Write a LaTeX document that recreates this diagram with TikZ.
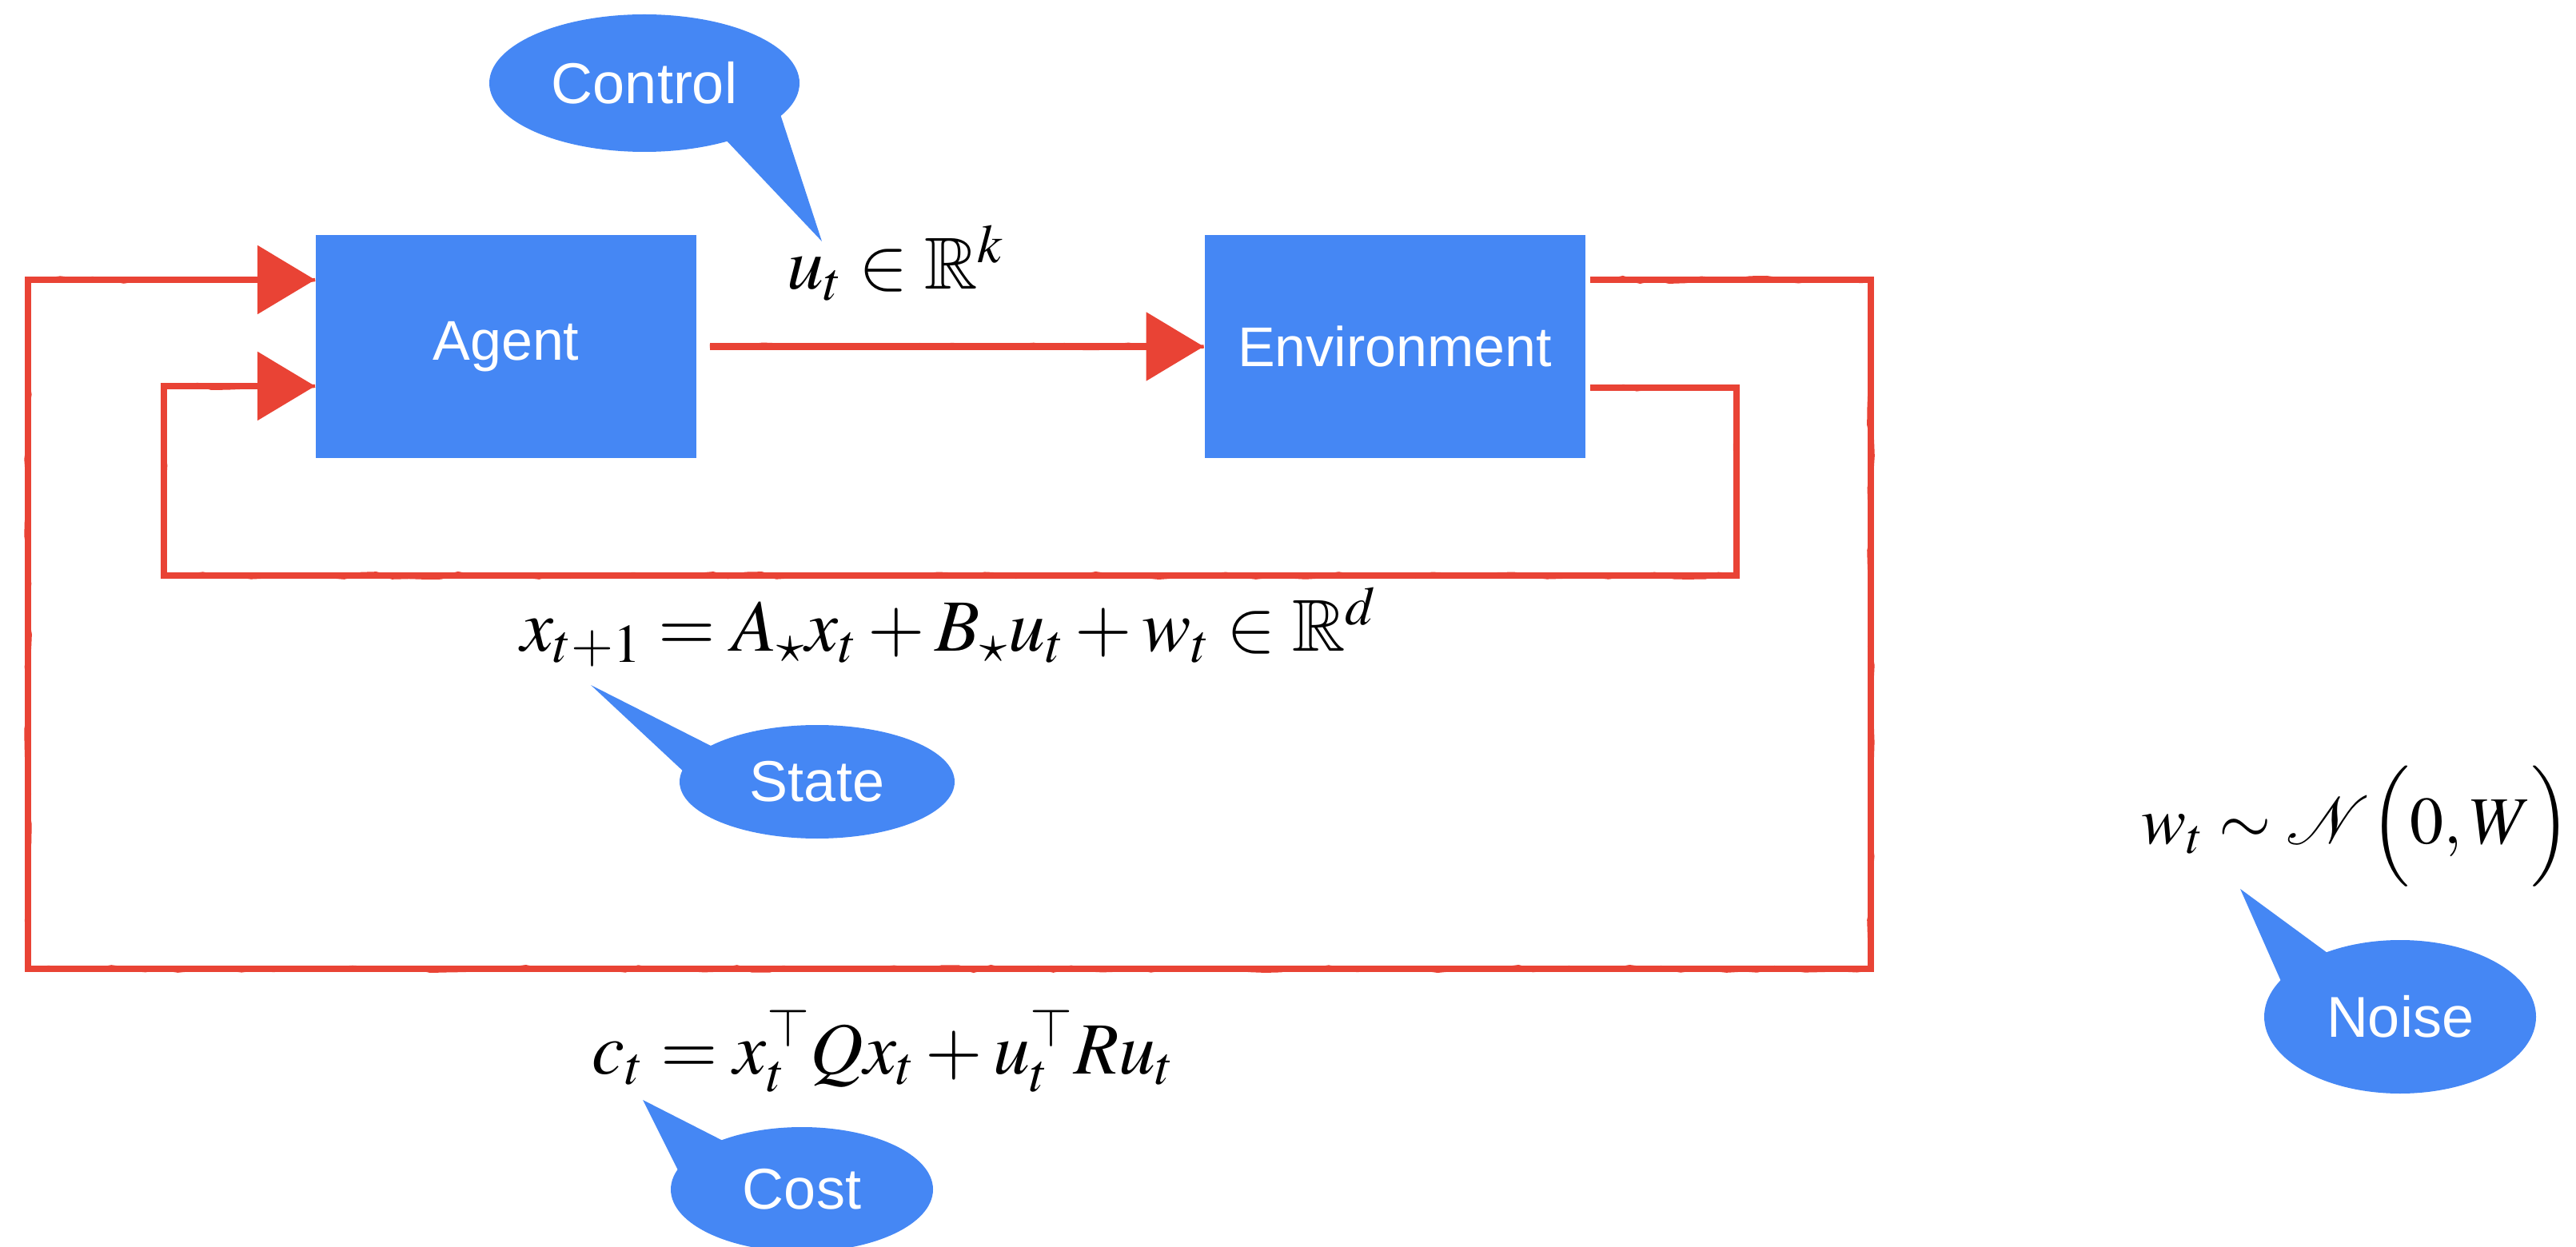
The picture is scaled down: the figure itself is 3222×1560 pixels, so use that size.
\documentclass[tikz,border=0pt]{standalone}
\usepackage{mathptmx}
\usepackage{amssymb}
\usepackage[no-math]{fontspec}
\newfontfamily\lblfont{Liberation Sans}
\usetikzlibrary{arrows.meta,calc,shapes.geometric,decorations.pathmorphing}
\definecolor{gblue}{RGB}{69,135,244}
\definecolor{gred}{RGB}{233,67,53}
\begin{document}
\begin{tikzpicture}[x=0.25pt,y=-0.25pt,
  box/.style={fill=gblue, draw=none, minimum width=119pt, minimum height=69.75pt, inner sep=0pt, text=white, font=\lblfont\fontsize{17.5}{20}\selectfont},
  bubble/.style={ellipse, fill=gblue, draw=none, inner sep=0pt, text=white, font=\lblfont\fontsize{18}{21}\selectfont},
  tail/.style={fill=gblue, draw=none},
  wire/.style={draw=gred, line width=2.2pt,
    postaction={-, draw=gred, line width=1.1pt, decorate, decoration={random steps, segment length=5pt, amplitude=0.7pt}}},
  arr/.style={wire, -{Triangle[length=18pt,width=21pt]}},
  eq/.style={anchor=base, inner sep=0pt, font=\fontsize{23}{27}\selectfont}
]
\useasboundingbox (0,0) rectangle (3222,1560);
\pgfmathsetseed{7}

% blocks
\node[box] (agent) at (633,433.5) {Agent};
\node[box] (env) at (1744.5,433.5) {Environment};

% ports and corners
\coordinate (eo1) at ($(env.east)+(6,-83.5)$);
\coordinate (eo2) at ($(env.east)+(6,51.5)$);
\coordinate (ai1) at ($(agent.west)+(0,-83.5)$);
\coordinate (ai2) at ($(agent.west)+(0,49.5)$);
\coordinate (outerR) at (2340,1212);
\coordinate (outerL) at (35,1212);
\coordinate (innerR) at (2172,720);
\coordinate (innerL) at (205,720);

% connectors
\draw[arr, shorten <=4pt] (agent) -- (env);
\draw[arr] (eo1) -| (outerR) -- (outerL) |- (ai1);
\draw[arr] (eo2) -| (innerR) -- (innerL) |- (ai2);

% equations
\node[eq] (ueq) at (1120,362) {$u_t \in \mathbb{R}^k$};
\node[eq] (xeq) at (1187,815) {$x_{t+1} = A_\star x_t + B_\star u_t + w_t \in \mathbb{R}^d$};
\node[eq] (ceq) at (1105,1343) {$c_t = x_t^\top Q x_t + u_t^\top R u_t$};
\node[eq, font=\fontsize{21}{25}\selectfont] (weq) at (2947,1055) {$w_t \sim \mathcal{N}\Bigl(0,W\Bigr)$};

% callouts
\node[bubble, minimum width=97pt, minimum height=43pt] (ctl) at (806,104) {Control};
\coordinate (ctltip) at (1028,302);
\fill[tail] (905,172) -- (ctltip) -- (975,140) -- cycle;

\node[bubble, minimum width=86pt, minimum height=35.5pt] (st) at (1022,978) {State};
\coordinate (sttip) at (739,857);
\fill[tail] (897,937) -- (sttip) -- (858,968) -- cycle;

\node[bubble, minimum width=82pt, minimum height=39pt] (cst) at (1003,1488) {Cost};
\coordinate (csttip) at (804,1376);
\fill[tail] (910,1430) -- (csttip) -- (850,1468) -- cycle;

\node[bubble, minimum width=85pt, minimum height=48pt] (nz) at (3002,1272) {Noise};
\coordinate (nztip) at (2802,1112);
\fill[tail] (2915,1195) -- (nztip) -- (2855,1232) -- cycle;
\end{tikzpicture}
\end{document}
